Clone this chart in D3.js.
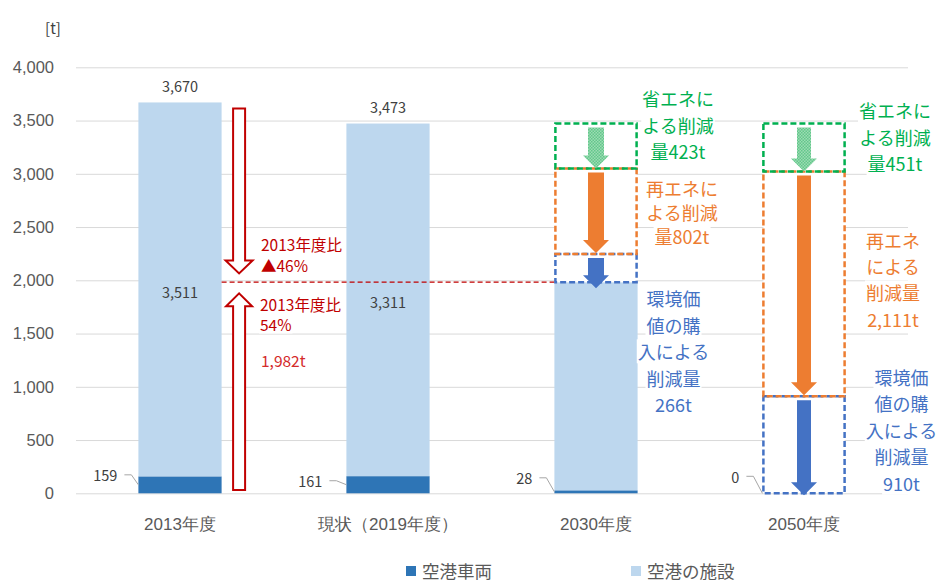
<!DOCTYPE html>
<html>
<head>
<meta charset="utf-8">
<script src="https://cdn.jsdelivr.net/npm/d3@7"></script>
<style>
  body { margin: 0; background: #fff; }
  svg { font-family: "Noto Sans CJK JP", "Noto Sans", sans-serif; }
</style>
</head>
<body>
<script>
// data
var categories = ["2013年度", "現状（2019年度）", "2030年度", "2050年度"];
var vehicle = [159, 161, 28, 0];
var facility = [3511, 3311, 1954, 0];
var totalLabels = ["3,670", "3,473", null, null];
var yTicks = [0, 500, 1000, 1500, 2000, 2500, 3000, 3500, 4000];

// reductions from the current level (3,473t)
var baseLevel = 3473;
var reductionCats = ["2030年度", "2050年度"];
var saveEnergy = [423, 451];
var renewable = [802, 2111];
var credits = [266, 910];

var saveText = [["省エネに", "よる削減", "量423t"], ["省エネに", "よる削減", "量451t"]];
var renewText = [["再エネに", "よる削減", "量802t"], ["再エネ", "による", "削減量", "2,111t"]];
var creditText = [["環境価", "値の購", "入による", "削減量", "266t"], ["環境価", "値の購", "入による", "削減量", "910t"]];

var target2030 = 1982;
var redDown = [3612, 2065];   // hollow arrow 3,670 -> target
var redUp = [30, 1878];
var redTextA = ["2013年度比", "▲46%"];
var redTextB = ["2013年度比", "54%"];
var redTextC = "1,982t";

var W = 941, H = 581;
var C_VEH = "#2e75b6", C_FAC = "#bdd7ee", C_RED = "#c00000";
var C_GREEN = "#00b050", C_ORANGE = "#ed7d31", C_BLUE = "#4472c4";

var svg = d3.select("body").append("svg").attr("width", W).attr("height", H);

var defs = svg.append("defs");
var pat = defs.append("pattern").attr("id", "greenDots")
    .attr("width", 3).attr("height", 3).attr("patternUnits", "userSpaceOnUse");
pat.append("rect").attr("width", 3).attr("height", 3).attr("fill", "#9ddbb4");
pat.append("rect").attr("width", 1.5).attr("height", 1.5).attr("fill", "#62c88b");
pat.append("rect").attr("x", 1.5).attr("y", 1.5).attr("width", 1.5).attr("height", 1.5).attr("fill", "#62c88b");

var x = d3.scaleBand().domain(categories).range([76, 908]).paddingInner(0.6).paddingOuter(0.3);
var y = d3.scaleLinear().domain([0, 4000]).range([493.3, 67.3]);

// y axis + gridlines
var gy = svg.append("g").attr("transform", "translate(76,0)")
    .call(d3.axisLeft(y).tickValues(yTicks).tickFormat(d3.format(","))
        .tickSize(-(908 - 76)).tickPadding(22));
gy.select(".domain").remove();
gy.selectAll(".tick line").attr("stroke", "#d9d9d9");
gy.selectAll(".tick text").attr("fill", "#595959").style("font-size", "16.5px");

svg.append("text").attr("x", 53).attr("y", 27).attr("text-anchor", "middle")
    .attr("dominant-baseline", "central").attr("fill", "#404040")
    .style("font-size", "15px").text("[t]");

// x axis labels
var gx = svg.append("g").attr("transform", "translate(0," + y(0) + ")")
    .call(d3.axisBottom(x).tickSize(0));
gx.select(".domain").remove();
gx.selectAll(".tick text").attr("dy", null).attr("y", 31)
    .attr("dominant-baseline", "central").attr("fill", "#595959").style("font-size", "17px");

// stacked bars
var rows = categories.map(function(c, i) { return { cat: c, vehicle: vehicle[i], facility: facility[i] }; });
var stack = d3.stack().keys(["vehicle", "facility"])(rows);
var colors = { vehicle: C_VEH, facility: C_FAC };
svg.append("g").selectAll("g").data(stack).join("g")
    .attr("fill", function(d) { return colors[d.key]; })
    .selectAll("rect").data(function(d) { return d; }).join("rect")
    .attr("x", function(d) { return x(d.data.cat); })
    .attr("width", x.bandwidth())
    .attr("y", function(d) { return y(d[1]); })
    .attr("height", function(d) { return y(d[0]) - y(d[1]); });

// totals
svg.append("g").selectAll("text").data(rows.filter(function(d, i) { return totalLabels[i]; })).join("text")
    .attr("x", function(d) { return x(d.cat) + x.bandwidth() / 2; })
    .attr("y", function(d) { return y(d.vehicle + d.facility) - 17; })
    .attr("text-anchor", "middle").attr("dominant-baseline", "central")
    .attr("fill", "#404040").style("font-size", "14.5px")
    .text(function(d, i) { return totalLabels[i]; });

// facility segment labels
svg.append("g").selectAll("text").data(rows.filter(function(d, i) { return i < 2; })).join("text")
    .attr("x", function(d) { return x(d.cat) + x.bandwidth() / 2; })
    .attr("y", function(d) { return y(d.vehicle + d.facility / 2) + 2; })
    .attr("text-anchor", "middle").attr("dominant-baseline", "central")
    .attr("fill", "#404040").style("font-size", "14.5px")
    .text(function(d) { return d3.format(",")(d.facility); });

// vehicle labels with leader lines
var vehLift = [10, 4, 14, 17];
var vehGap = [21, 24, 22, 23];
var vl = svg.append("g");
rows.forEach(function(d, i) {
  var bx = x(d.cat), segMid = y(d.vehicle / 2);
  var ly = segMid - vehLift[i], lx = bx - vehGap[i];
  vl.append("text").attr("x", lx).attr("y", ly).attr("text-anchor", "end")
    .attr("dominant-baseline", "central").attr("fill", "#404040").style("font-size", "14.5px")
    .text(d3.format(",")(d.vehicle));
  vl.append("path").attr("fill", "none").attr("stroke", "#a6a6a6").attr("stroke-width", 1)
    .attr("d", "M" + (lx + 7) + "," + ly + "H" + (lx + 14) + "L" + bx + "," + segMid);
});

// red dashed target line
svg.append("line")
    .attr("x1", x(categories[0]) + x.bandwidth()).attr("x2", x(categories[2]))
    .attr("y1", y(target2030)).attr("y2", y(target2030))
    .attr("stroke", C_RED).attr("stroke-width", 1.2).attr("stroke-dasharray", "5,3");

function arrowPath(cx, y0, tip, shaft, head, headH) {
  var dir = tip > y0 ? 1 : -1;
  var yb = tip - dir * headH;
  return "M" + (cx - shaft / 2) + "," + y0 + "H" + (cx + shaft / 2) + "V" + yb +
         "H" + (cx + head / 2) + "L" + cx + "," + tip + "L" + (cx - head / 2) + "," + yb +
         "H" + (cx - shaft / 2) + "Z";
}

// hollow red arrows between bar 1 and bar 2
var redX = x(categories[0]) + x.bandwidth() + 17.5;
svg.append("path").attr("d", arrowPath(redX, y(redDown[0]), y(redDown[1]), 12, 27, 13))
    .attr("fill", "#fff").attr("stroke", C_RED).attr("stroke-width", 2);
svg.append("path").attr("d", arrowPath(redX, y(redUp[0]), y(redUp[1]), 12, 26, 13))
    .attr("fill", "#fff").attr("stroke", C_RED).attr("stroke-width", 2);

function textBlock(lines, cx, y0, step, color, size, anchor) {
  var g = svg.append("g");
  lines.forEach(function(s, i) {
    var t = g.append("text").attr("x", cx).attr("y", y0 + i * step)
      .attr("text-anchor", anchor || "middle").attr("dominant-baseline", "central")
      .attr("fill", color).style("font-size", size + "px").text(s);
    var b = t.node().getBBox();
    g.insert("rect", "text").attr("x", b.x - 1).attr("y", b.y + 1)
      .attr("width", b.width + 2).attr("height", b.height - 2).attr("fill", "#fff");
  });
  return g;
}

textBlock(redTextA, 261, 243.5, 21.5, C_RED, 15.5, "start");
textBlock(redTextB, 260, 303.5, 20, C_RED, 15.5, "start");
textBlock([redTextC], 261, 360, 0, "#d42a2a", 15.5, "start");

// reduction boxes for 2030 / 2050
var arrowShaft = [16, 14];
var textLayout = [
  { save: [82, 98.3, 26.3], renew: [86, 188, 24.2], credit: [77.5, 298.3, 26.5] },
  { save: [91, 110, 26.7], renew: [89, 240, 26.2], credit: [97.5, 376.7, 26.5] }
];
reductionCats.forEach(function(cat, i) {
  var bx = x(cat), bw = x.bandwidth(), cx = bx + bw / 2;
  var levels = [baseLevel, baseLevel - saveEnergy[i],
                baseLevel - saveEnergy[i] - renewable[i],
                baseLevel - saveEnergy[i] - renewable[i] - credits[i]];
  var cols = [C_GREEN, C_ORANGE, C_BLUE];
  var g = svg.append("g");
  [2, 1, 0].forEach(function(k) {
    g.append("rect").attr("x", bx + 1).attr("width", bw - 2)
      .attr("y", y(levels[k])).attr("height", y(levels[k + 1]) - y(levels[k]))
      .attr("fill", "#fff");
  });
  [2, 1, 0].forEach(function(k) {
    g.append("rect").attr("x", bx + 1).attr("width", bw - 2)
      .attr("y", y(levels[k])).attr("height", y(levels[k + 1]) - y(levels[k]))
      .attr("fill", "none").attr("stroke", cols[k]).attr("stroke-width", 2.5)
      .attr("stroke-dasharray", "6,3");
  });
  var tipAdj = [0, -1, i === 0 ? 6 : 2];
  var fills = ["url(#greenDots)", C_ORANGE, C_BLUE];
  [0, 1, 2].forEach(function(k) {
    g.append("path")
      .attr("d", arrowPath(cx, y(levels[k]) + 4, y(levels[k + 1]) + tipAdj[k], arrowShaft[i], 26, 13))
      .attr("fill", fills[k]);
  });
  var L = textLayout[i];
  textBlock(saveText[i], cx + L.save[0], L.save[1], L.save[2], C_GREEN, 18);
  textBlock(renewText[i], cx + L.renew[0], L.renew[1], L.renew[2], C_ORANGE, 18);
  textBlock(creditText[i], cx + L.credit[0], L.credit[1], L.credit[2], C_BLUE, 18);
});

// legend
var legendItems = [{ name: "空港車両", color: C_VEH, x: 406 }, { name: "空港の施設", color: C_FAC, x: 631 }];
var lg = svg.append("g").selectAll("g").data(legendItems).join("g")
    .attr("transform", function(d) { return "translate(" + d.x + ",570)"; });
lg.append("rect").attr("x", 0).attr("y", -4).attr("width", 10).attr("height", 10)
    .attr("fill", function(d) { return d.color; });
lg.append("text").attr("x", 16).attr("y", 0).attr("dominant-baseline", "central")
    .attr("fill", "#595959").style("font-size", "17.5px").text(function(d) { return d.name; });
</script>
</body>
</html>
